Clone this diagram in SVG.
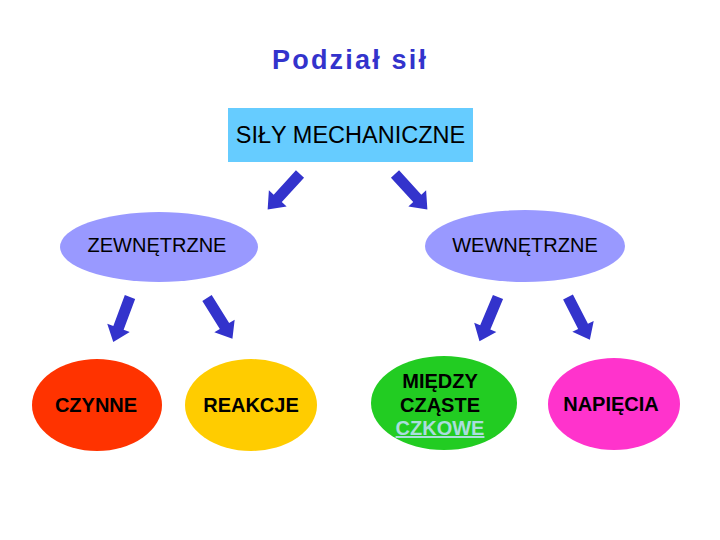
<svg xmlns="http://www.w3.org/2000/svg" xmlns:xlink="http://www.w3.org/1999/xlink" width="720" height="540" viewBox="0 0 720 540">
<style>
text{font-family:"Liberation Sans",Arial,sans-serif;fill:#000;text-anchor:middle}
.lbl{font-size:20px;font-weight:bold}
.arrow{fill:#3333CC}
</style>
<defs>
<path id="arr" d="M0,-5.5 L33,-5.5 L33,-12 L48,0 L33,12 L33,5.5 L0,5.5 Z"/>
</defs>
<rect width="720" height="540" fill="#fff"/>
<text id="title" x="349" y="69" style="font-size:27px;font-weight:bold;fill:#3333CC" textLength="154" lengthAdjust="spacing">Podział sił</text>
<g id="n-mech">
<rect x="228" y="108" width="245" height="54" fill="#66CCFF"/>
<text x="350.5" y="143" style="font-size:23.5px">SIŁY MECHANICZNE</text>
</g>
<g id="n-zewn">
<ellipse cx="159" cy="247" rx="99" ry="35" fill="#9999FF"/>
<text class="lbl" x="157" y="252" style="font-weight:normal">ZEWNĘTRZNE</text>
</g>
<g id="n-wewn">
<ellipse cx="525" cy="246" rx="100" ry="36" fill="#9999FF"/>
<text class="lbl" x="525" y="252" style="font-weight:normal">WEWNĘTRZNE</text>
</g>
<g id="n-czynne">
<ellipse cx="97" cy="405" rx="65" ry="46" fill="#FF3300"/>
<text class="lbl" x="96" y="412">CZYNNE</text>
</g>
<g id="n-reakcje">
<ellipse cx="251" cy="405" rx="66" ry="46" fill="#FFCC00"/>
<text class="lbl" x="251" y="412">REAKCJE</text>
</g>
<g id="n-miedzy">
<ellipse cx="444" cy="403" rx="73" ry="47" fill="#22CC22"/>
<text class="lbl" x="440" y="388">MIĘDZY</text>
<text class="lbl" x="440" y="412">CZĄSTE</text>
<text class="lbl" x="440" y="435" style="fill:#AADDDD;text-decoration:underline">CZKOWE</text>
</g>
<g id="n-napiecia">
<ellipse cx="614" cy="404" rx="66" ry="46" fill="#FF33CC"/>
<text class="lbl" x="611" y="411">NAPIĘCIA</text>
</g>
<g id="connectors" class="arrow">
<use xlink:href="#arr" transform="translate(300,174) rotate(132.4)"/>
<use xlink:href="#arr" transform="translate(395,174) rotate(47.6)"/>
<use xlink:href="#arr" transform="translate(130,297) rotate(110.4)"/>
<use xlink:href="#arr" transform="translate(207,298) rotate(58)"/>
<use xlink:href="#arr" transform="translate(498,297) rotate(112.7)"/>
<use xlink:href="#arr" transform="translate(568,297) rotate(62.9)"/>
</g>
</svg>
